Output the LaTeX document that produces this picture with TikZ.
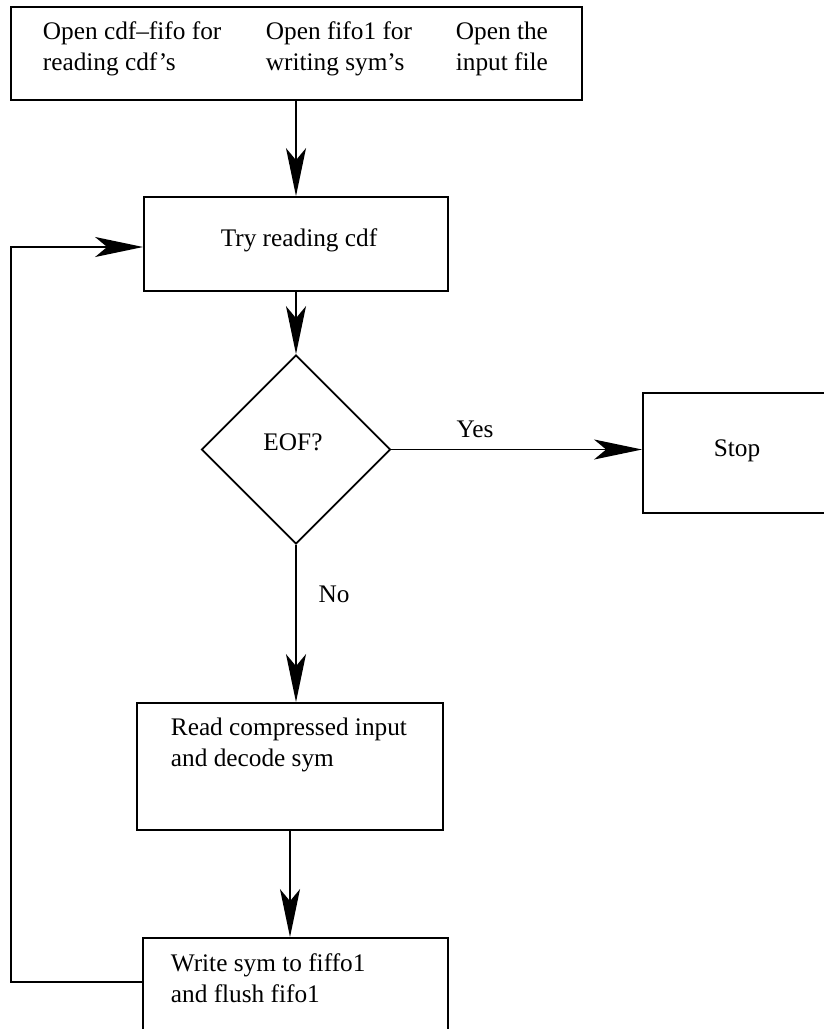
\documentclass[tikz,border=0pt]{standalone}
\usepackage{fontspec}
\setmainfont{Liberation Serif}
\usetikzlibrary{arrows.meta,shapes.geometric}
\begin{document}
\begin{tikzpicture}[x=1pt,y=-1pt,
  line width=1.8pt,
  box/.style={draw,rectangle,inner sep=0pt},
  txt/.style={inner sep=0pt,font=\fontsize{25.3}{31}\selectfont,align=left},
  flow/.style={-{Stealth[length=48pt,width=20pt,inset=12pt]}},
]
\useasboundingbox (0,0) rectangle (824,1029);
\clip (0,0) rectangle (824,1029);

% boxes
\node[box,minimum width=571pt,minimum height=93pt] (init) at (296.5,53.5) {};
\node[box,minimum width=304pt,minimum height=94pt] (try) at (296,244) {};
\node[draw,diamond,shape aspect=1,minimum width=189pt,minimum height=189pt,inner sep=0pt] (eof) at (296,449.5) {};
\node[box,minimum width=200pt,minimum height=120pt] (stop) at (743,453) {};
\node[box,minimum width=306pt,minimum height=127pt] (read) at (290,766.5) {};
\node[box,minimum width=305pt,minimum height=127pt] (write) at (295.5,1001.5) {};

% texts
\node[txt,anchor=north west] (t1) at (42,21) {Open cdf–fifo for\\reading cdf's};
\node[txt,anchor=north west] (t2) at (265,21) {Open fifo1 for\\writing sym's};
\node[txt,anchor=north west] (t3) at (455,21) {Open the\\input file};
\node[txt,anchor=base] (ttry) at (299,246) {Try reading cdf};
\node[txt,anchor=base] (teof) at (293,450) {EOF?};
\node[txt,anchor=base] (tstop) at (737,456) {Stop};
\node[txt,anchor=north west] (tread) at (170,717) {Read compressed input\\and decode sym};
\node[txt,anchor=north west] (twrite) at (170,953) {Write sym to fiffo1\\and flush fifo1};
\node[txt,anchor=base] (yes) at (475,437) {Yes};
\node[txt,anchor=base] (no) at (334,602) {No};

% connectors
\draw[flow] (try.north |- init.south) -- (try.north);
\draw[flow] (try.south) -- (eof.north);
\draw[flow] (eof.east) -- (eof.east -| stop.west);
\draw[flow] (eof.south) -- (eof.south |- read.north);
\draw[flow] (read.south) -- (read.south |- write.north);
\coordinate (loopb) at (11,982);
\coordinate (loopt) at (11,247);
\draw[flow] (write.west |- loopb) -- (loopb) -- (loopt) -- (loopt -| try.west);
\end{tikzpicture}
\end{document}
